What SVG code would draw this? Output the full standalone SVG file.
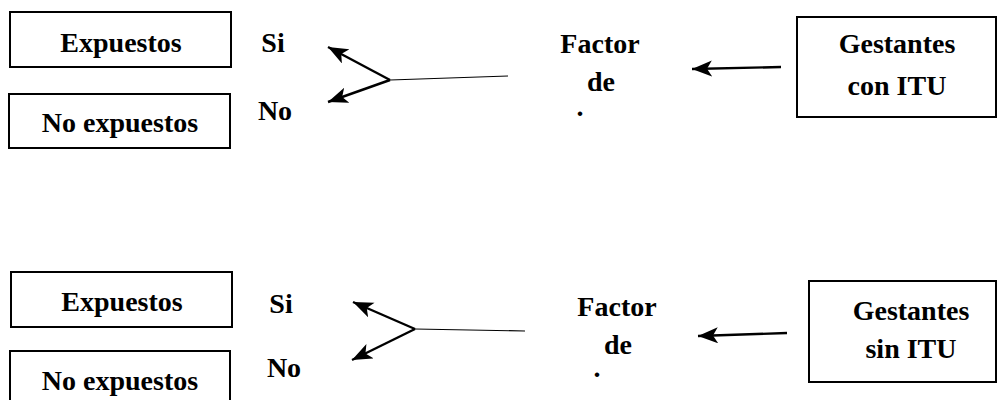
<svg xmlns="http://www.w3.org/2000/svg" width="998" height="400" viewBox="0 0 998 400">
<style>
.box{fill:#fff;stroke:#000;stroke-width:2}
.t{font-family:'Liberation Serif','Times New Roman',serif;font-weight:bold;font-size:28px;fill:#000;text-anchor:middle}
.a{stroke:#000;stroke-width:2.4;fill:none;marker-end:url(#ah)}
.l{stroke:#000;stroke-width:1.2;fill:none}
</style>
<defs>
<marker id="ah" markerUnits="userSpaceOnUse" markerWidth="24" markerHeight="18" refX="20" refY="8" orient="auto">
<path d="M0,0 L20,8 L0,16 L5,8 z" fill="#000"/>
</marker>
</defs>
<rect width="998" height="400" fill="#fff"/>
<g id="top-expuestos"><rect class="box" x="10" y="12" width="221" height="55"/><text class="t" x="121" y="52">Expuestos</text></g>
<g id="top-noexpuestos"><rect class="box" x="9" y="94" width="221" height="54"/><text class="t" x="120" y="132">No expuestos</text></g>
<g id="top-si"><text class="t" x="273" y="52">Si</text></g>
<g id="top-no"><text class="t" x="275" y="120">No</text></g>
<g id="top-factor"><text class="t" x="600" y="53">Factor</text><text class="t" x="601" y="91">de</text><text class="t" x="580" y="116">.</text></g>
<g id="top-gestantes"><rect class="box" x="797" y="17" width="199" height="100"/><text class="t" x="897" y="53">Gestantes</text><text class="t" x="897" y="95">con ITU</text></g>
<g id="bot-expuestos"><rect class="box" x="11" y="272" width="221" height="55"/><text class="t" x="122" y="311">Expuestos</text></g>
<g id="bot-noexpuestos"><rect class="box" x="10" y="351" width="220" height="60"/><text class="t" x="120" y="390">No expuestos</text></g>
<g id="bot-si"><text class="t" x="281" y="313">Si</text></g>
<g id="bot-no"><text class="t" x="284" y="377">No</text></g>
<g id="bot-factor"><text class="t" x="617" y="316">Factor</text><text class="t" x="618" y="354">de</text><text class="t" x="597" y="377">.</text></g>
<g id="bot-gestantes"><rect class="box" x="809" y="281" width="187" height="101"/><text class="t" x="911" y="320">Gestantes</text><text class="t" x="911" y="358">sin ITU</text></g>
<g id="connectors">
<line class="a" x1="781" y1="67" x2="692" y2="69"/>
<line class="l" x1="390" y1="80" x2="508" y2="76"/>
<line class="a" x1="390" y1="80" x2="328" y2="47"/>
<line class="a" x1="390" y1="80" x2="328" y2="102"/>
<line class="a" x1="787" y1="333" x2="698" y2="336"/>
<line class="l" x1="415" y1="329" x2="525" y2="331"/>
<line class="a" x1="415" y1="329" x2="353" y2="302"/>
<line class="a" x1="415" y1="329" x2="352" y2="360"/>
</g>
</svg>
